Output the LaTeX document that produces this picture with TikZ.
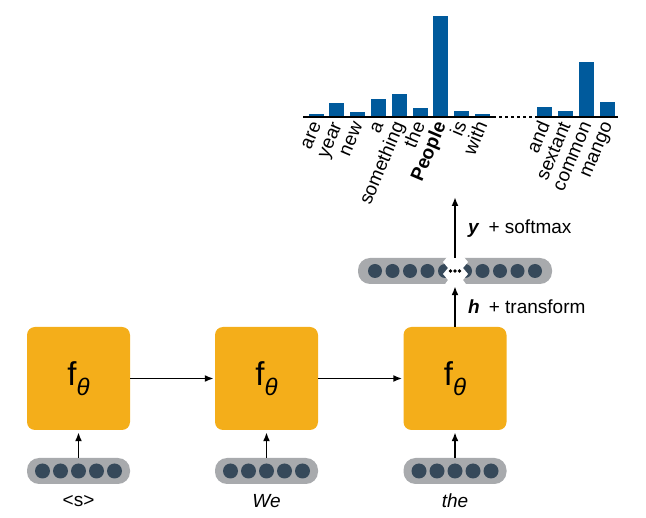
\documentclass[tikz,border=0pt]{standalone}
\usepackage{fontspec}
\setmainfont{Liberation Sans}
\usetikzlibrary{arrows.meta}

\definecolor{cellorange}{HTML}{F4AE1A}
\definecolor{pillgray}{HTML}{A8AAAD}
\definecolor{unitdark}{HTML}{36495A}
\definecolor{barblue}{HTML}{005A9C}

\newcommand{\ftheta}{\fontsize{33}{33}\selectfont f\raisebox{-10pt}{\fontsize{24}{24}\selectfont\textit{θ}}}

\begin{document}
\begin{tikzpicture}[x=1pt, y=-1pt,
    cell/.style={fill=cellorange, rounded corners=8pt, minimum width=103pt, minimum height=103pt, inner sep=0pt},
    vec/.style={fill=pillgray, rounded corners=12pt, minimum width=103pt, minimum height=26pt, inner sep=0pt},
    arr/.style={-{Latex[length=9pt,width=7pt]}, line width=1.8pt},
    word/.style={font=\fontsize{19}{19}\selectfont, inner sep=0pt},
    tok/.style={font=\fontsize{19}{19}\selectfont, rotate=67, anchor=base east, inner sep=0pt}]
    \useasboundingbox (0,0) rectangle (646,518);

    % 再帰セル
    \node[cell] (f1) at (78.5,378.5) {\ftheta};
    \node[cell] (f2) at (266.5,378.5) {\ftheta};
    \node[cell] (f3) at (455,378.5) {\ftheta};

    % 入力ベクトル
    \node[vec] (x1) at (78.5,471) {};
    \node[vec] (x2) at (266.5,471) {};
    \node[vec] (x3) at (455,471) {};
    \foreach \v in {x1,x2,x3}
        \foreach \i in {-2,...,2}
            \fill[unitdark] ([xshift=\i*18pt]\v.center) circle (7.5);

    % 入力トークン
    \node[word] (w1) at (78.5,501) {<s>};
    \node[word] (w2) at (266.5,501) {\textit{We}};
    \node[word] (w3) at (455,501) {\textit{the}};

    % 矢印
    \draw[arr, shorten >=2pt] (x1) -- (f1);
    \draw[arr, shorten >=2pt] (x2) -- (f2);
    \draw[arr, shorten >=2pt] (x3) -- (f3);
    \draw[arr, shorten >=1pt] (f1) -- (f2);
    \draw[arr, shorten >=1pt] (f2) -- (f3);

    % 隠れ状態ベクトル（途中を省略）
    \node[vec, minimum width=194pt] (hv) at (455,271) {};
    \foreach \dx in {-80,-62.5,-45,-27.5,-10,10,27.5,45,62.5,80}
        \fill[unitdark] ([xshift=\dx pt]hv.center) circle (7);
    \fill[white] (448,256) -- (443,262) -- (448,268) -- (443,274) -- (448,280) -- (443,287)
        -- (468,287) -- (463,280) -- (468,274) -- (463,268) -- (468,262) -- (463,256) -- cycle;
    \foreach \dx in {-4.5,0,4.5}
        \fill[black] ([xshift=\dx pt]hv.center) circle (1.8);

    \draw[arr, shorten >=2pt] (f3) -- (hv);
    \coordinate (out) at (455,197);
    \draw[arr] (hv) -- (out);
    \node[word, anchor=base west] (hlab) at (468,314) {\textbf{\textit{h}}\hspace{9pt}+ transform};
    \node[word, anchor=base west] (ylab) at (468,234) {\textbf{\textit{y}}\hspace{9pt}+ softmax};

    % 分布（棒グラフ）
    \foreach \k/\hgt/\w in {0/2.7/are, 1/13.7/year, 2/5.3/new, 3/18.3/a, 4/23/something,
            5/9.3/the, 6/101/\textbf{People}, 7/5.7/is, 8/2.7/with,
            11/10/and, 12/6.3/sextant, 13/54.7/common, 14/15/mango} {
        \fill[barblue] (308.5+20.8*\k,117) rectangle ++(15,-\hgt);
        \node[tok] (t\k) at (321.5+20.8*\k,125) {\w};
    }
    \draw[line width=1.6pt] (303,117) -- (493,117);
    \draw[line width=1.6pt, dash pattern=on 3pt off 3pt] (493,117) -- (535,117);
    \draw[line width=1.6pt] (535,117) -- (618,117);
\end{tikzpicture}
\end{document}
